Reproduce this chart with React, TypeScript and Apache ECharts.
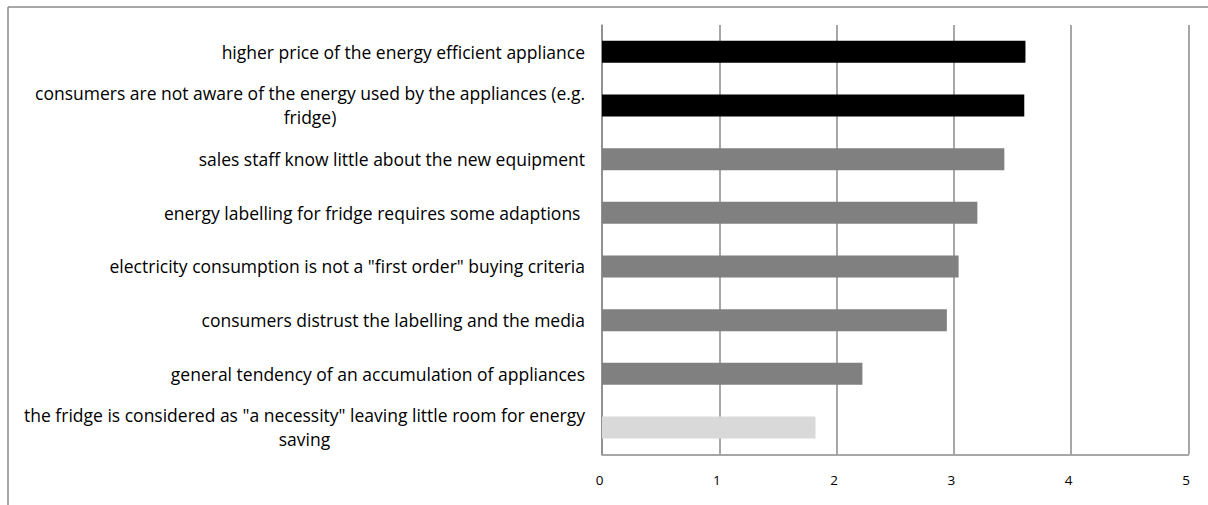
import React, { useEffect, useRef } from "react";
import * as echarts from "echarts";

// Barriers, listed top to bottom; "\n" marks where a long label wraps
const categories = [
  "higher price of the energy efficient appliance",
  "consumers are not aware of the energy used by the appliances (e.g.\nfridge)",
  "sales staff know little about the new equipment",
  "energy labelling for fridge requires some adaptions ",
  'electricity consumption is not a "first order" buying criteria',
  "consumers distrust the labelling and the media",
  "general tendency of an accumulation of appliances",
  'the fridge is considered as "a necessity" leaving little room for energy\nsaving',
];

// Average score per barrier (0 = not relevant, 5 = very relevant)
const scores = [3.61, 3.6, 3.43, 3.2, 3.04, 2.94, 2.22, 1.82];

// Emphasis group of each barrier
const tiers = ["high", "high", "mid", "mid", "mid", "mid", "mid", "low"];

const xTicks = [0, 1, 2, 3, 4, 5];

const tierColors: Record<string, string> = {
  high: "#000000",
  mid: "#808080",
  low: "#d9d9d9",
};

const LINE = "#8a8a8a";
const FONT = "'Open Sans', Lato, sans-serif";

export default function App() {
  const ref = useRef<HTMLDivElement>(null);

  useEffect(() => {
    if (!ref.current) return;
    const chart = echarts.init(ref.current, null, { renderer: "svg" });
    chart.setOption({
      animation: false,
      backgroundColor: "#ffffff",
      graphic: [
        {
          type: "line",
          silent: true,
          shape: { x1: 8, y1: 7, x2: 1208, y2: 7 },
          style: { stroke: LINE, lineWidth: 1.5 },
        },
        {
          type: "line",
          silent: true,
          shape: { x1: 8, y1: 7, x2: 8, y2: 505 },
          style: { stroke: LINE, lineWidth: 1.5 },
        },
      ],
      grid: { left: 602, right: 19.5, top: 25, bottom: 50.7, containLabel: false },
      xAxis: {
        type: "value",
        min: xTicks[0],
        max: xTicks[xTicks.length - 1],
        interval: 1,
        axisLine: { show: true, lineStyle: { color: LINE, width: 1.5 } },
        axisTick: { show: false },
        splitLine: { show: true, lineStyle: { color: LINE, width: 1.5 } },
        axisLabel: {
          color: "#000",
          fontFamily: FONT,
          fontSize: 13.5,
          margin: 19,
          padding: [0, 5, 0, 0],
        },
      },
      yAxis: {
        type: "category",
        inverse: true,
        data: categories,
        axisLine: { show: true, lineStyle: { color: LINE, width: 1.5 } },
        axisTick: { show: false },
        axisLabel: {
          color: "#000",
          fontFamily: FONT,
          fontSize: 17.5,
          margin: 17,
          lineHeight: 24,
          formatter: (v: string) =>
            v
              .split("\n")
              .map((s) => `{c|${s}}`)
              .join("\n"),
          rich: {
            c: {
              align: "center",
              color: "#000",
              fontFamily: FONT,
              fontSize: 17.5,
              lineHeight: 24,
            },
          },
        },
      },
      series: [
        {
          type: "bar",
          barWidth: 22,
          data: scores.map((v, i) => ({
            value: v,
            itemStyle: { color: tierColors[tiers[i]] },
          })),
        },
      ],
    });
    return () => chart.dispose();
  }, []);

  return (
    <div
      ref={ref}
      style={{ position: "absolute", left: 0, top: 0, width: 1208, height: 505 }}
    />
  );
}
